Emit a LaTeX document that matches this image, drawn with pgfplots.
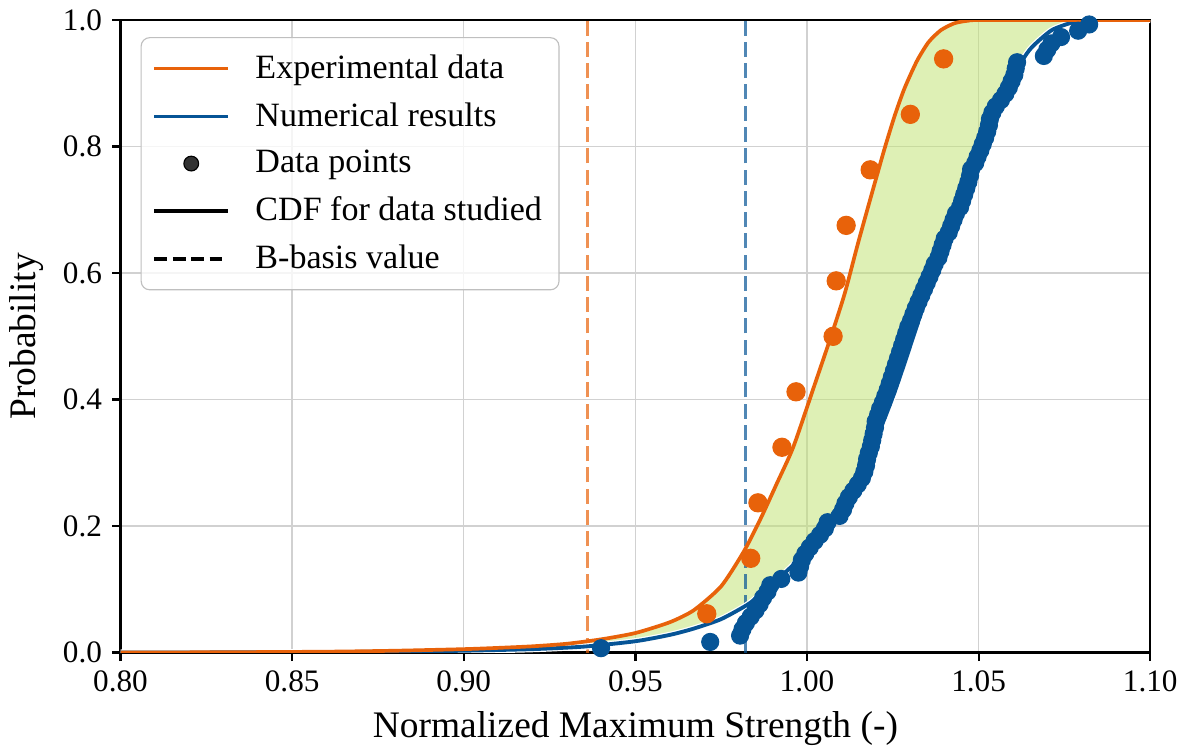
\documentclass[border=0pt]{standalone}
\usepackage{fontspec}
\setmainfont{Liberation Serif}
\newfontfamily\timesf{Liberation Serif}
\usepackage{pgfplots}
\pgfplotsset{compat=1.18}
\usepgfplotslibrary{fillbetween}
\definecolor{expor}{HTML}{E8620A}
\definecolor{numbl}{HTML}{065496}
\definecolor{band}{RGB}{193,227,115}
\pgfplotsset{
  longline/.style={legend image code/.code={\draw[##1] (0pt,0pt) -- (26pt,0pt); \path (33pt,0pt);}},
}

\begin{document}
\begin{tikzpicture}
\begin{axis}[
  scale only axis, width=363pt, height=223pt,
  xmin=0.8, xmax=1.1, ymin=0, ymax=1,
  xtick={0.80,0.85,0.90,0.95,1.00,1.05,1.10},
  xticklabels={0.80,0.85,0.90,0.95,1.00,1.05,1.10},
  ytick={0,0.2,0.4,0.6,0.8,1.0},
  yticklabels={0.0,0.2,0.4,0.6,0.8,1.0},
  xtick pos=lower, ytick pos=left,
  tick align=outside, major tick length=3pt,
  grid=major, grid style={line width=0.5pt, draw=black!18},
  axis line style={line width=0.8pt},
  tick style={black, line width=0.8pt},
  xticklabel style={font=\timesf\fontsize{11}{13}\selectfont},
  yticklabel style={font=\timesf\fontsize{11}{13}\selectfont},
  xlabel style={font=\timesf\fontsize{13.2}{15}\selectfont},
  ylabel style={font=\timesf\fontsize{13.2}{15}\selectfont},
  xlabel={Normalized Maximum Strength (-)},
  ylabel={Probability},
  legend style={at={(0.0195,0.973)}, anchor=north west, draw=black!25,
    rounded corners=3pt, fill=white, fill opacity=0.8, text opacity=1,
    font=\timesf\fontsize{12}{14}\selectfont, row sep=3pt, inner xsep=4pt, inner ysep=4pt},
  legend cell align=left,
  longline,
]
% CDF curves (paths only)
\addplot[draw=none, smooth, tension=0.4, name path=orng, forget plot] coordinates {
 (0.80,0.0002)(0.83,0.0006)(0.86,0.0015)(0.88,0.003)(0.90,0.0055)(0.91,0.0075)
 (0.92,0.010)(0.93,0.014)(0.94,0.021)(0.95,0.031)(0.96,0.048)(0.967,0.067)
 (0.975,0.105)(0.9816,0.160)(0.9865,0.212)(0.991,0.265)(0.996,0.325)(1.002,0.420)
 (1.007,0.500)(1.011,0.568)(1.0149,0.648)(1.019,0.728)(1.0225,0.795)(1.0255,0.848)
 (1.0284,0.892)(1.032,0.935)(1.0354,0.965)(1.039,0.984)(1.043,0.995)(1.047,0.999)
 (1.052,1.0)(1.10,1.0)};
\addplot[draw=none, smooth, tension=0.4, name path=blu, forget plot] coordinates {
 (0.80,0.0001)(0.85,0.0006)(0.88,0.0015)(0.90,0.003)(0.92,0.0055)(0.935,0.0095)
 (0.95,0.018)(0.96,0.028)(0.967,0.038)(0.975,0.053)(0.9827,0.076)(0.9866,0.093)
 (0.9962,0.140)(1.0061,0.203)(1.0158,0.283)(1.0254,0.410)(1.0368,0.595)(1.0441,0.705)
 (1.050,0.798)(1.0558,0.868)(1.0588,0.896)(1.0626,0.935)(1.0655,0.957)(1.0713,0.984)
 (1.078,0.997)(1.085,1.0)(1.10,1.0)};
% data points: numerical results
\addplot[only marks, mark=*, mark size=3pt, numbl, forget plot] coordinates {
 (0.9400,0.0070)(0.9718,0.0169)(0.9805,0.0269)(0.9812,0.0369)(0.9822,0.0468)
 (0.9836,0.0568)(0.9850,0.0667)(0.9862,0.0767)(0.9872,0.0867)(0.9885,0.0966)
 (0.9893,0.1066)(0.9925,0.1165)(0.9975,0.1265)(0.9980,0.1365)(0.9985,0.1464)
 (0.9995,0.1564)(1.0008,0.1663)(1.0022,0.1763)(1.0038,0.1862)(1.0052,0.1962)
 (1.0060,0.2062)(1.0095,0.2161)(1.0105,0.2261)(1.0112,0.2360)(1.0122,0.2460)
 (1.0135,0.2560)(1.0148,0.2659)(1.0160,0.2759)(1.0167,0.2859)(1.0172,0.2958)
 (1.0175,0.3058)(1.0180,0.3157)(1.0186,0.3257)(1.0190,0.3357)(1.0194,0.3456)
 (1.0198,0.3556)(1.0200,0.3655)(1.0207,0.3755)(1.0213,0.3855)(1.0221,0.3954)
 (1.0228,0.4054)(1.0235,0.4153)(1.0241,0.4253)(1.0247,0.4353)(1.0253,0.4452)
 (1.0259,0.4552)(1.0265,0.4651)(1.0271,0.4751)(1.0277,0.4851)(1.0283,0.4950)
 (1.0289,0.5050)(1.0295,0.5149)(1.0303,0.5249)(1.0310,0.5349)(1.0317,0.5448)
 (1.0325,0.5548)(1.0333,0.5647)(1.0341,0.5747)(1.0349,0.5847)(1.0357,0.5946)
 (1.0365,0.6046)(1.0372,0.6145)(1.0383,0.6245)(1.0389,0.6345)(1.0395,0.6444)
 (1.0401,0.6544)(1.0413,0.6643)(1.0420,0.6743)(1.0427,0.6843)(1.0434,0.6942)
 (1.0446,0.7042)(1.0452,0.7141)(1.0458,0.7241)(1.0464,0.7341)(1.0470,0.7440)
 (1.0475,0.7540)(1.0478,0.7639)(1.0490,0.7739)(1.0497,0.7839)(1.0505,0.7938)
 (1.0512,0.8038)(1.0519,0.8137)(1.0525,0.8237)(1.0530,0.8337)(1.0533,0.8436)
 (1.0540,0.8536)(1.0550,0.8635)(1.0565,0.8735)(1.0578,0.8835)(1.0588,0.8934)
 (1.0596,0.9034)(1.0604,0.9133)(1.0608,0.9233)(1.0612,0.9333)(1.0690,0.9432)
 (1.0700,0.9532)(1.0712,0.9631)(1.0740,0.9731)(1.0790,0.9831)(1.0822,0.9930)};
% data points: experimental
\addplot[only marks, mark=*, mark size=3.2pt, expor, forget plot] coordinates {
 (0.9708,0.0614)(0.9836,0.1491)(0.9857,0.2368)(0.9927,0.3246)(0.9968,0.4123)
 (1.0076,0.5000)(1.0085,0.5877)(1.0114,0.6754)(1.0184,0.7632)(1.0301,0.8509)
 (1.0398,0.9386)};
% B-basis values
\addplot[expor, opacity=0.7, line width=1.1pt, dash pattern=on 5.3pt off 2.2pt, forget plot]
  coordinates {(0.936,0) (0.936,1)};
\addplot[numbl, opacity=0.7, line width=1.1pt, dash pattern=on 5.3pt off 2.2pt, forget plot]
  coordinates {(0.9822,0) (0.9822,1)};
% band between the two CDFs
\addplot[band, fill opacity=0.53, draw=band, draw opacity=0.6, forget plot]
  fill between[of=orng and blu];
% visible CDF lines
\addplot[white, line width=2.2pt, smooth, tension=0.4, forget plot] coordinates {
 (0.80,0.0001)(0.85,0.0006)(0.88,0.0015)(0.90,0.003)(0.92,0.0055)(0.935,0.0095)
 (0.95,0.018)(0.96,0.028)(0.967,0.038)(0.975,0.053)(0.9827,0.076)(0.9866,0.093)
 (0.9962,0.140)(1.0061,0.203)(1.0158,0.283)(1.0254,0.410)(1.0368,0.595)(1.0441,0.705)
 (1.050,0.798)(1.0558,0.868)(1.0588,0.896)(1.0626,0.935)(1.0655,0.957)(1.0713,0.984)
 (1.078,0.997)(1.085,1.0)(1.10,1.0)};
\addplot[numbl, line width=1.35pt, smooth, tension=0.4, forget plot] coordinates {
 (0.80,0.0001)(0.85,0.0006)(0.88,0.0015)(0.90,0.003)(0.92,0.0055)(0.935,0.0095)
 (0.95,0.018)(0.96,0.028)(0.967,0.038)(0.975,0.053)(0.9827,0.076)(0.9866,0.093)
 (0.9962,0.140)(1.0061,0.203)(1.0158,0.283)(1.0254,0.410)(1.0368,0.595)(1.0441,0.705)
 (1.050,0.798)(1.0558,0.868)(1.0588,0.896)(1.0626,0.935)(1.0655,0.957)(1.0713,0.984)
 (1.078,0.997)(1.085,1.0)(1.10,1.0)};
\addplot[expor, line width=1.3pt, smooth, tension=0.4, forget plot] coordinates {
 (0.80,0.0002)(0.83,0.0006)(0.86,0.0015)(0.88,0.003)(0.90,0.0055)(0.91,0.0075)
 (0.92,0.010)(0.93,0.014)(0.94,0.021)(0.95,0.031)(0.96,0.048)(0.967,0.067)
 (0.975,0.105)(0.9816,0.160)(0.9865,0.212)(0.991,0.265)(0.996,0.325)(1.002,0.420)
 (1.007,0.500)(1.011,0.568)(1.0149,0.648)(1.019,0.728)(1.0225,0.795)(1.0255,0.848)
 (1.0284,0.892)(1.032,0.935)(1.0354,0.965)(1.039,0.984)(1.043,0.995)(1.047,0.999)
 (1.052,1.0)(1.10,1.0)};
% legend
\addlegendimage{expor, line width=1.3pt}
\addlegendentry{Experimental data}
\addlegendimage{numbl, line width=1.3pt}
\addlegendentry{Numerical results}
\addlegendimage{black, legend image code/.code={\fill[black] (13pt,0pt) circle (2.6pt); \path (33pt,0pt);}}
\addlegendentry{Data points}
\addlegendimage{black, line width=1.3pt}
\addlegendentry{CDF for data studied}
\addlegendimage{black, line width=1.3pt, dash pattern=on 4.5pt off 2pt}
\addlegendentry{B-basis value}
\end{axis}
\end{tikzpicture}
\end{document}
